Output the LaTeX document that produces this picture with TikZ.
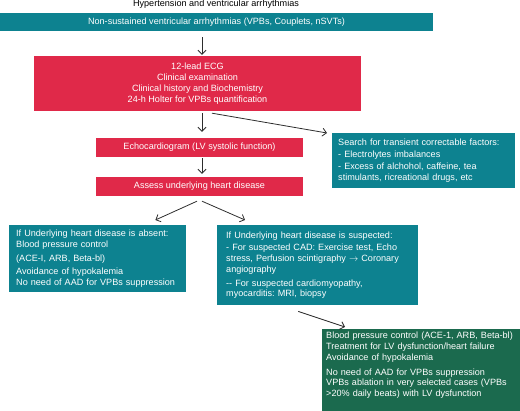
\documentclass[tikz,border=0pt]{standalone}
\usepackage{fontspec}
\setmainfont{Liberation Sans}
\frenchspacing
\usetikzlibrary{arrows.meta, positioning}
\definecolor{TealBox}{RGB}{13,130,144}
\definecolor{RedBox}{RGB}{224,41,73}
\definecolor{GreenBox}{RGB}{27,106,78}
\definecolor{ArrowGray}{RGB}{45,45,45}

\begin{document}
\begin{tikzpicture}[x=1pt, y=-1pt,
    txt/.style={font=\fontsize{9.1}{10.8}\selectfont},
    box/.style={txt, rectangle, inner sep=0pt, text=white, align=center},
    leftbox/.style={box, anchor=north west, align=left, inner xsep=7pt, inner ysep=4pt},
    flow/.style={-{Straight Barb[length=4pt, width=8pt]}, line width=0.8pt, draw=ArrowGray}]

  \useasboundingbox (0,0) rectangle (520,411);
  \coordinate (axis) at (202,0);

  \node[txt] (title) at (216,4) {Hypertension and ventricular arrhythmias};

  \node[box, fill=TealBox, minimum width=433pt, minimum height=18pt] (nsva) at (216.5,22)
    {Non-sustained ventricular arrhythmias (VPBs, Couplets, nSVTs)};

  \node[box, fill=RedBox, minimum width=327pt, minimum height=55pt] (ecg) at (197.5,83.5)
    {12-lead ECG\\ Clinical examination\\ Clinical history and Biochemistry\\ 24-h Holter for VPBs quantification};

  \node[box, fill=RedBox, minimum width=207pt, minimum height=19pt] (echo) at (199.5,147.5)
    {Echocardiogram (LV systolic function)};

  \node[box, fill=RedBox, minimum width=207pt, minimum height=19pt] (assess) at (199.5,186.5)
    {Assess underlying heart disease};

  \node[leftbox, fill=TealBox, inner xsep=6pt, text width=171pt, minimum height=55pt] (factors) at (332,133)
    {Search for transient correctable factors:\\[1pt]
     - Electrolytes imbalances\\[2pt]
     - Excess of alchohol, caffeine, tea\\
     stimulants, ricreational drugs, etc};

  \node[leftbox, fill=TealBox, text width=163pt, minimum height=67pt] (absent) at (9,225)
    {If Underlying heart disease is absent:\\
     Blood pressure control\\[2.5pt]
     (ACE-I, ARB, Beta-bl)\\[2.5pt]
     Avoidance of hypokalemia\\
     No need of AAD for VPBs suppression};

  \node[leftbox, fill=TealBox, inner xsep=9pt, text width=183pt, minimum height=80pt] (suspected) at (217,225)
    {If Underlying heart disease is suspected:\\[1.5pt]
     - For suspected CAD: Exercise test, Echo\\
     stress, Perfusion scintigraphy $\rightarrow$ Coronary\\
     angiography\\[3pt]
     -{}- For suspected cardiomyopathy,\\
     myocarditis: MRI, biopsy};

  \node[leftbox, fill=GreenBox, inner xsep=4pt, inner ysep=3pt, text width=190pt] (therapy) at (322,329)
    {Blood pressure control (ACE-1, ARB, Beta-bl)\\
     Treatment for LV dysfunction/heart failure\\
     Avoidance of hypokalemia\\[4pt]
     No need of AAD for VPBs suppression\\
     VPBs ablation in very selected cases (VPBs\\
     >20\% daily beats) with LV dysfunction};
  \fill[GreenBox] (therapy.south west) rectangle (520,411);

  % connectors
  \draw[flow, shorten <=6pt, shorten >=1pt] (nsva.south -| axis) -- (ecg.north -| axis);
  \draw[flow, shorten <=2pt, shorten >=6pt] (ecg.south -| axis) -- (echo.north -| axis);
  \draw[flow, shorten <=1pt, shorten >=3pt] (echo.south -| axis) -- (assess.north -| axis);
  \draw[flow] ([xshift=14.5pt, yshift=-2pt]ecg.south) -- ([xshift=-5pt]factors.north west);
  \draw[flow] ([xshift=-2.5pt, yshift=-5pt]assess.south) -- ([xshift=-31pt, yshift=5pt]absent.north east);
  \draw[flow] ([xshift=2.5pt, yshift=-5pt]assess.south) -- ([xshift=28pt, yshift=5pt]suspected.north west);
  \draw[flow] ([xshift=-19.5pt, yshift=-6pt]suspected.south) -- ([xshift=23pt, yshift=2pt]therapy.north west);
\end{tikzpicture}
\end{document}
